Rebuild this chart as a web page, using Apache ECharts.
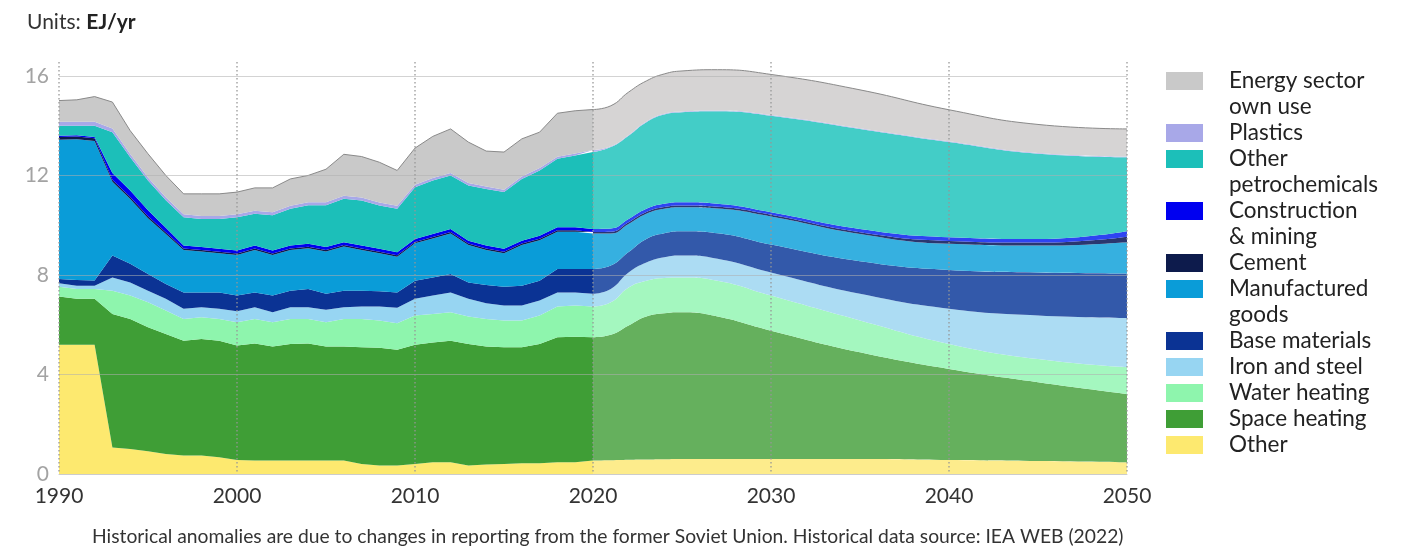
<!DOCTYPE html>
<html><head><meta charset="utf-8">
<script src="https://cdn.jsdelivr.net/npm/echarts@6/dist/echarts.min.js"></script>
<style>html,body{margin:0;padding:0;background:#fff}#c{width:1416px;height:550px}</style>
</head><body><div id="c"></div>
<script>
// ---------- DATA ----------
const allYears = [1990,1991,1992,1993,1994,1995,1996,1997,1998,1999,2000,2001,2002,2003,2004,2005,2006,2007,2008,2009,2010,2011,2012,2013,2014,2015,2016,2017,2018,2019,2020,2021,2022,2023,2024,2025,2026,2027,2028,2029,2030,2031,2032,2033,2034,2035,2036,2037,2038,2039,2040,2041,2042,2043,2044,2045,2046,2047,2048,2049,2050];
const histYears = [1990,1991,1992,1993,1994,1995,1996,1997,1998,1999,2000,2001,2002,2003,2004,2005,2006,2007,2008,2009,2010,2011,2012,2013,2014,2015,2016,2017,2018,2019,2020];
const projYears = [2020,2021,2022,2023,2024,2025,2027,2030,2035,2040,2045,2050];

const seriesNames = ['Other','Space heating','Water heating','Iron and steel','Base materials','Manufactured goods','Cement','Construction & mining','Other petrochemicals','Plastics','Energy sector own use'];

// historical values (EJ/yr), 1990..2020
const hOther     = [5.2,5.2,5.2,1.07,1.0,0.91,0.8,0.74,0.74,0.67,0.56,0.54,0.54,0.54,0.54,0.54,0.54,0.4,0.34,0.34,0.4,0.47,0.47,0.34,0.38,0.4,0.43,0.43,0.47,0.47,0.54];
const hSpace     = [1.93,1.84,1.84,5.36,5.23,4.99,4.83,4.62,4.69,4.69,4.6,4.71,4.58,4.69,4.71,4.58,4.58,4.69,4.73,4.65,4.8,4.82,4.89,4.89,4.74,4.69,4.66,4.8,5.03,5.05,4.96];
const hWater     = [0.4,0.4,0.4,0.94,0.94,1.0,0.94,0.87,0.87,0.87,0.94,0.98,0.98,1.0,0.98,0.98,1.11,1.14,1.1,1.07,1.17,1.14,1.14,1.1,1.11,1.08,1.08,1.14,1.23,1.25,1.23];
const hIron      = [0.14,0.13,0.13,0.53,0.53,0.47,0.47,0.41,0.4,0.41,0.44,0.47,0.4,0.47,0.47,0.5,0.47,0.5,0.56,0.62,0.67,0.74,0.8,0.71,0.63,0.6,0.6,0.6,0.57,0.53,0.51];
const hBase      = [0.17,0.23,0.21,0.88,0.75,0.67,0.6,0.66,0.6,0.66,0.63,0.6,0.67,0.67,0.74,0.64,0.67,0.64,0.62,0.62,0.73,0.73,0.74,0.66,0.74,0.76,0.8,0.8,0.94,0.94,1.0];
const hManuf     = [5.59,5.65,5.6,2.97,2.6,2.24,2.01,1.7,1.64,1.57,1.63,1.7,1.63,1.63,1.63,1.7,1.77,1.63,1.52,1.43,1.5,1.57,1.63,1.5,1.4,1.34,1.63,1.63,1.5,1.5,1.43];
const hCement    = [0.12,0.12,0.12,0.08,0.08,0.08,0.07,0.06,0.06,0.06,0.06,0.06,0.06,0.06,0.06,0.06,0.06,0.06,0.06,0.06,0.06,0.06,0.06,0.06,0.06,0.06,0.06,0.06,0.06,0.06,0.06];
const hConstr    = [0.05,0.05,0.05,0.27,0.27,0.24,0.18,0.12,0.12,0.12,0.12,0.12,0.12,0.12,0.12,0.12,0.12,0.12,0.12,0.12,0.12,0.12,0.12,0.12,0.12,0.12,0.12,0.12,0.12,0.12,0.12];
const hPetro     = [0.4,0.38,0.45,1.64,1.33,1.2,1.1,1.14,1.13,1.2,1.34,1.28,1.42,1.48,1.55,1.68,1.74,1.81,1.74,1.75,2.08,2.15,2.15,2.22,2.28,2.28,2.48,2.62,2.75,2.88,3.09];
const hPlastics  = [0.16,0.16,0.16,0.15,0.13,0.12,0.12,0.12,0.12,0.12,0.12,0.12,0.12,0.12,0.12,0.12,0.12,0.12,0.12,0.12,0.1,0.1,0.1,0.1,0.1,0.1,0.1,0.1,0.08,0.08,0.08];
const hEnergy    = [0.85,0.88,1.01,1.06,0.94,0.95,0.88,0.82,0.89,0.89,0.89,0.92,0.98,1.08,1.08,1.33,1.67,1.65,1.62,1.42,1.47,1.67,1.77,1.64,1.42,1.51,1.51,1.44,1.75,1.72,1.63];

// projected values (EJ/yr) at projYears
const pOther     = [0.54,0.55,0.57,0.58,0.59,0.6,0.6,0.6,0.6,0.56,0.52,0.47];
const pSpace     = [4.96,5.05,5.4,5.75,5.87,5.9,5.73,5.16,4.29,3.66,3.17,2.75];
const pWater     = [1.23,1.3,1.53,1.44,1.42,1.4,1.44,1.41,1.28,1.01,0.93,1.07];
const pIron      = [0.51,0.54,0.6,0.73,0.83,0.88,0.88,0.93,1.07,1.41,1.75,1.98];
const pBase      = [1.0,0.94,0.82,0.95,0.97,0.98,1.03,1.12,1.31,1.56,1.73,1.79];
const pManuf     = [1.43,1.29,1.13,1.01,0.98,0.96,0.99,1.13,1.1,1.05,1.08,1.26];
const pCement    = [0.06,0.07,0.07,0.07,0.07,0.07,0.07,0.07,0.07,0.12,0.12,0.22];
const pConstr    = [0.12,0.13,0.13,0.13,0.13,0.13,0.12,0.1,0.13,0.15,0.15,0.22];
const pPetro     = [3.09,3.27,3.35,3.48,3.59,3.62,3.72,3.88,4.02,3.82,3.42,2.97];
const pPlastics  = [0.08,0.03,0.03,0.03,0.03,0.03,0.03,0.03,0.03,0.03,0.03,0.03];
const pEnergy    = [1.63,1.63,1.72,1.63,1.6,1.63,1.64,1.63,1.54,1.27,1.15,1.11];

const yTicks = [0,4,8,12,16];
const xTicks = [1990,2000,2010,2020,2030,2040,2050];

// legend rows, top to bottom: [series name or continuation line, first-line label]
const legendRows = [
  ['Energy sector own use', 'Energy sector'], ['own use', 'own use'],
  ['Plastics', 'Plastics'],
  ['Other petrochemicals', 'Other'], ['petrochemicals', 'petrochemicals'],
  ['Construction & mining', 'Construction'], ['& mining', '& mining'],
  ['Cement', 'Cement'],
  ['Manufactured goods', 'Manufactured'], ['goods', 'goods'],
  ['Base materials', 'Base materials'], ['Iron and steel', 'Iron and steel'],
  ['Water heating', 'Water heating'], ['Space heating', 'Space heating'], ['Other', 'Other']
];
const continuationRows = ['own use', 'petrochemicals', '& mining', 'goods'];

// ---------- STYLE ----------
const histValues = [hOther,hSpace,hWater,hIron,hBase,hManuf,hCement,hConstr,hPetro,hPlastics,hEnergy];
const projValues = [pOther,pSpace,pWater,pIron,pBase,pManuf,pCement,pConstr,pPetro,pPlastics,pEnergy];
const histColors = ['#fde96f','#3f9e36','#8ef5ad','#97d5f2','#0b3394','#0a9cd8','#0d1b4c','#0000f0','#1cbfb9','#a8a8e8','#c9c9c9'];
const projColors = ['#fdec8c','#65b05d','#a4f7bf','#acdcf3','#3359aa','#36b0e0','#2a3770','#2e44f2','#43cdc7','#b9b9ee','#d6d4d4'];
const FONT = 'Lato';

function onYears(years, values) {
  return allYears.map(y => { const k = years.indexOf(y); return k >= 0 ? values[k] : '-'; });
}

const series = [];
seriesNames.forEach((name, i) => {
  const isTop = i === seriesNames.length - 1;
  series.push({
    name, type: 'line', stack: 'hist', symbol: 'none', showSymbol: false,
    xAxisIndex: 0,
    data: onYears(histYears, histValues[i]),
    itemStyle: { color: histColors[i] },
    areaStyle: { color: histColors[i], opacity: 1 },
    lineStyle: isTop ? { width: 1, color: '#8a8a8a' } : { width: 0 },
    emphasis: { disabled: true }, silent: true
  });
});
// projections on a hidden value x-axis; value stored first so the stack is taken on y
seriesNames.forEach((name, i) => {
  const isTop = i === seriesNames.length - 1;
  series.push({
    name, type: 'line', stack: 'proj', symbol: 'none', showSymbol: false,
    xAxisIndex: 1, smooth: 0.5,
    data: projYears.map((y, j) => [projValues[i][j], y]),
    encode: { x: 1, y: 0 },
    itemStyle: { color: projColors[i] },
    areaStyle: { color: projColors[i], opacity: 1 },
    lineStyle: isTop ? { width: 1, color: '#8a8a8a' } : { width: 0 },
    emphasis: { disabled: true }, silent: true
  });
});
// empty placeholders that only carry the second line of two-line legend labels
continuationRows.forEach(name => {
  series.push({ name, type: 'line', data: [], symbol: 'none',
    itemStyle: { color: 'rgba(0,0,0,0)' }, lineStyle: { width: 0 }, silent: true });
});

const labelOf = {};
legendRows.forEach(r => { labelOf[r[0]] = r[1]; });

const option = {
  animation: false,
  backgroundColor: '#ffffff',
  title: [
    { text: '{a|Units: }{b|EJ/yr}', left: 27, top: 12, padding: 0,
      textStyle: { rich: {
        a: { fontFamily: FONT, fontSize: 21, color: '#333', fontWeight: 'normal' },
        b: { fontFamily: FONT, fontSize: 21, color: '#222', fontWeight: 'bold' } } } },
    { text: 'Historical anomalies are due to changes in reporting from the former Soviet Union. Historical data source: IEA WEB (2022)',
      left: 92, top: 527, padding: 0,
      textStyle: { fontFamily: FONT, fontSize: 19.3, fontWeight: 'normal', color: '#333' } }
  ],
  legend: {
    orient: 'vertical', left: 1166, top: 68, padding: 0, itemGap: 0,
    itemWidth: 37, itemHeight: 18, icon: 'rect', selectedMode: false,
    data: legendRows.map(r => continuationRows.indexOf(r[0]) >= 0 ? { name: r[0], icon: 'none' } : { name: r[0] }),
    formatter: name => labelOf[name],
    itemStyle: { borderWidth: 0 },
    textStyle: { fontFamily: FONT, fontSize: 22.5, color: '#222', lineHeight: 26, padding: [0, 0, 0, 21] }
  },
  grid: { left: 59, right: 289, top: 62, bottom: 76, containLabel: false },
  xAxis: [{
    type: 'category', data: allYears, boundaryGap: false, z: 5,
    axisLine: { show: true, lineStyle: { color: '#cccccc', width: 1 } },
    axisTick: { show: false },
    axisLabel: { fontFamily: FONT, fontSize: 21, color: '#333', margin: 12, interval: 0,
      formatter: v => xTicks.indexOf(Number(v)) >= 0 ? String(v) : '' },
    splitLine: { show: true, interval: (idx, v) => xTicks.indexOf(Number(v)) >= 0,
      lineStyle: { color: 'rgba(150,150,150,0.85)', width: 1.5, type: [1.5, 2.5] } }
  }, {
    type: 'value', min: xTicks[0], max: xTicks[xTicks.length - 1], show: false
  }],
  yAxis: {
    type: 'value', min: 0, max: 16.56, interval: 4, z: 5,
    axisLine: { show: false }, axisTick: { show: false },
    axisLabel: { fontFamily: FONT, fontSize: 21, color: '#a3a3a3', margin: 10, showMaxLabel: false,
      formatter: v => yTicks.indexOf(v) >= 0 ? String(v) : '' },
    splitLine: { show: true, showMaxLine: false, lineStyle: { color: 'rgba(175,175,175,0.55)', width: 1.2 } }
  },
  series
};

const chart = echarts.init(document.getElementById('c'), null, { renderer: 'canvas' });
chart.setOption(option);
</script>
</body></html>
